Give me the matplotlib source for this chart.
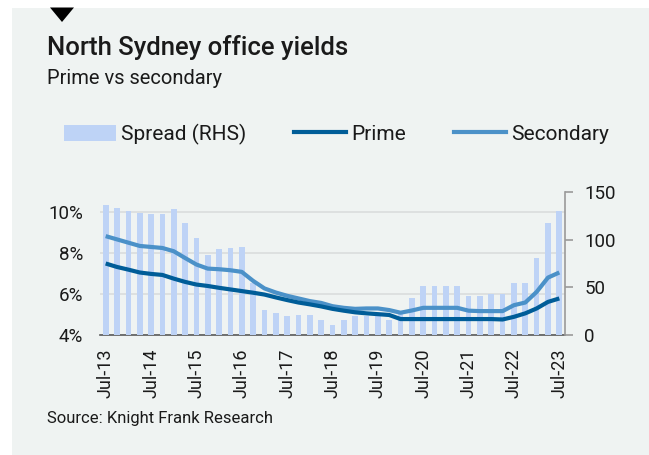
import matplotlib
matplotlib.use("Agg")
import matplotlib.pyplot as plt
from matplotlib.patches import Rectangle, Polygon, Patch
from matplotlib.lines import Line2D
import numpy as np

plt.rcParams['font.family'] = ['Roboto', 'DejaVu Sans']

# quarterly, Jul-13 .. Jul-23
quarters = ["Jul-13", "Oct-13", "Jan-14", "Apr-14", "Jul-14", "Oct-14", "Jan-15", "Apr-15",
            "Jul-15", "Oct-15", "Jan-16", "Apr-16", "Jul-16", "Oct-16", "Jan-17", "Apr-17",
            "Jul-17", "Oct-17", "Jan-18", "Apr-18", "Jul-18", "Oct-18", "Jan-19", "Apr-19",
            "Jul-19", "Oct-19", "Jan-20", "Apr-20", "Jul-20", "Oct-20", "Jan-21", "Apr-21",
            "Jul-21", "Oct-21", "Jan-22", "Apr-22", "Jul-22", "Oct-22", "Jan-23", "Apr-23",
            "Jul-23"]
prime = [7.50, 7.33, 7.20, 7.06, 6.99, 6.94, 6.76, 6.60, 6.47, 6.40, 6.31, 6.23, 6.15, 6.07,
         5.98, 5.84, 5.71, 5.59, 5.50, 5.40, 5.28, 5.19, 5.11, 5.06, 5.02, 4.98, 4.78, 4.78,
         4.78, 4.78, 4.78, 4.78, 4.78, 4.78, 4.78, 4.76, 4.89, 5.06, 5.30, 5.62, 5.79]
secondary = [8.84, 8.68, 8.52, 8.36, 8.31, 8.26, 8.10, 7.77, 7.45, 7.25, 7.22, 7.17, 7.09, 6.65,
             6.28, 6.08, 5.92, 5.79, 5.66, 5.57, 5.41, 5.33, 5.28, 5.30, 5.30, 5.22, 5.09, 5.20,
             5.33, 5.33, 5.33, 5.33, 5.19, 5.17, 5.17, 5.17, 5.46, 5.59, 6.11, 6.81, 7.06]
spread = [136, 133, 130, 127.5, 127, 126.5, 132, 117, 102, 84, 90.5, 91.5, 92, 55, 26, 23.5,
          20, 21, 21, 16, 11, 15.5, 20, 20, 20, 16, 25, 39, 51, 51, 51, 51, 41, 41, 43, 43,
          54.5, 54.5, 81, 117, 130]

bg = "#eff3f2"
c_bar = "#bed3f6"
c_prime = "#005d98"
c_sec = "#4b91c8"
txt = "#1a1a1a"

W, H = 649, 455
fig = plt.figure(figsize=(W / 100, H / 100), dpi=100)
fig.patch.set_facecolor("white")

# panel + marker triangle
fig.patches.append(Rectangle((12 / W, 0), 1 - 12 / W, (H - 7.5) / H, transform=fig.transFigure,
                             facecolor=bg, edgecolor="none", zorder=-10))
fig.patches.append(Polygon([(50 / W, 1 - 7.5 / H), (74 / W, 1 - 7.5 / H), (62 / W, 1 - 22 / H)],
                           closed=True, transform=fig.transFigure, facecolor="black",
                           edgecolor="none"))

fig.text(47 / W, 1 - 48 / H, "North Sydney office yields", fontsize=18.5, fontweight="medium",
         color=txt, va="center", ha="left")
fig.text(47 / W, 1 - 78 / H, "Prime vs secondary", fontsize=14.5, color=txt, va="center", ha="left")
fig.text(47 / W, 1 - 419 / H, "Source: Knight Frank Research", fontsize=12, color=txt,
         va="center", ha="left")

x = np.arange(len(quarters))
rect = [100 / W, 1 - 335 / H, 465 / W, 143 / H]

# left axis: grid + % labels
ax = fig.add_axes(rect)
ax.patch.set_visible(False)
ax.set_xlim(-0.5, len(quarters) - 0.5)
ax.set_ylim(4, 11)
ax.set_yticks([4, 6, 8, 10])
ax.set_yticklabels(["4%", "6%", "8%", "10%"])
ax.grid(axis="y", color="#dcdfdf", linewidth=1.3)
ax.tick_params(axis="y", length=0, pad=12, labelsize=13.5, labelcolor=txt)
ax.set_xticks(x[::4])
ax.set_xticklabels(quarters[::4], rotation=90)
ax.tick_params(axis="x", length=0, pad=10, labelsize=13, labelcolor=txt)
for s in ["top", "right", "left"]:
    ax.spines[s].set_visible(False)
ax.spines["bottom"].set_color("#5a5a5a")
ax.spines["bottom"].set_linewidth(1.2)

# right axis: spread bars
ax2 = ax.twinx()
ax2.bar(x, spread, width=0.5, color=c_bar, zorder=1)
ax2.set_ylim(0, 150)
ax2.set_yticks([0, 50, 100, 150])
ax2.tick_params(axis="y", length=6, width=1.2, color="#9a9a9a", pad=8, labelsize=13.5,
                labelcolor=txt)
for s in ["top", "left", "bottom"]:
    ax2.spines[s].set_visible(False)
ax2.spines["right"].set_color("#9a9a9a")
ax2.spines["right"].set_linewidth(1.2)

# lines on top, same scale as left axis
ax3 = ax.twinx()
ax3.set_ylim(4, 11)
ax3.plot(x, secondary, color=c_sec, linewidth=3, solid_capstyle="butt")
ax3.plot(x, prime, color=c_prime, linewidth=3, solid_capstyle="butt")
ax3.set_yticks([])
for s in ax3.spines.values():
    s.set_visible(False)

handles = [Patch(facecolor=c_bar, edgecolor="none"),
           Line2D([], [], color=c_prime, linewidth=3),
           Line2D([], [], color=c_sec, linewidth=3)]
fig.legend(handles, ["Spread (RHS)", "Prime", "Secondary"], loc="center left",
           bbox_to_anchor=(45 / W, 1 - 134 / H), ncol=3, frameon=False, fontsize=15,
           handlelength=2.5, handleheight=0.8, handletextpad=0.25, columnspacing=2.3,
           labelcolor=txt)

fig.savefig("out.png", dpi=100, facecolor=fig.get_facecolor())
